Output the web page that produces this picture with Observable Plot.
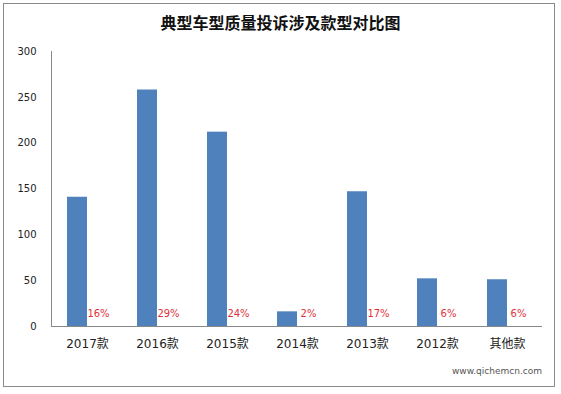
<!DOCTYPE html>
<html><head><meta charset="utf-8">
<script src="https://cdn.jsdelivr.net/npm/d3@7"></script>
<script src="https://cdn.jsdelivr.net/npm/@observablehq/plot@0.6"></script>
<style>
body{margin:0;background:#fff;}
#wrap{position:relative;width:561px;height:394px;overflow:hidden;}
#frame{position:absolute;left:3px;top:3px;width:552px;height:384px;border:1px solid #8a8a8a;box-sizing:border-box;pointer-events:none;}
#title{height:40px;line-height:44px;text-align:center;font-family:"Noto Sans CJK SC",sans-serif;font-weight:bold;font-size:16px;color:#111;}
#wm{position:absolute;left:452px;top:366px;font-family:"DejaVu Sans",sans-serif;font-size:9px;color:#555;}
</style></head>
<body>
<div id="wrap">
<div id="title">典型车型质量投诉涉及款型对比图</div>
<div id="chart"></div>
<div id="wm">www.qichemcn.com</div>
<div id="frame"></div>
</div>
<script>
const categories = ["2017款","2016款","2015款","2014款","2013款","2012款","其他款"];
const counts = [141, 258, 212, 16, 147, 52, 51];
const shares = ["16%","29%","24%","2%","17%","6%","6%"];
const yTicks = [0, 50, 100, 150, 200, 250, 300];

const data = categories.map((c, i) => ({cat: c, n: counts[i], pct: shares[i]}));

const chart = Plot.plot({
  width: 561,
  height: 354,
  marginLeft: 51,
  marginRight: 19,
  marginTop: 11,
  marginBottom: 68,
  style: {fontFamily: "'DejaVu Sans', 'Noto Sans CJK SC', sans-serif", fontSize: "10px", color: "#222", background: "transparent"},
  x: {type: "band", domain: categories, paddingInner: 0, paddingOuter: 0, label: null},
  y: {domain: [0, 300], ticks: yTicks, label: null},
  marks: [
    Plot.barY(data, {x: "cat", y: "n", fill: "#4F81BD", insetLeft: 15, insetRight: 35}),
    Plot.text(data, {x: "cat", y: 0, text: "pct", dx: 11, dy: -13, fill: "#E0303A", fontSize: 10}),
    Plot.ruleY([0], {stroke: "#888"}),
    Plot.frame({anchor: "left", stroke: "#888"}),
    Plot.axisY({ticks: yTicks, tickSize: 0, tickPadding: 15, fontSize: 10, label: null}),
    Plot.axisX({tickSize: 0, tickPadding: 13, fontSize: 12, label: null, fontFamily: "'DejaVu Sans', 'Noto Sans CJK SC', sans-serif"})
  ]
});
document.getElementById("chart").appendChild(chart);
</script>
</body></html>
